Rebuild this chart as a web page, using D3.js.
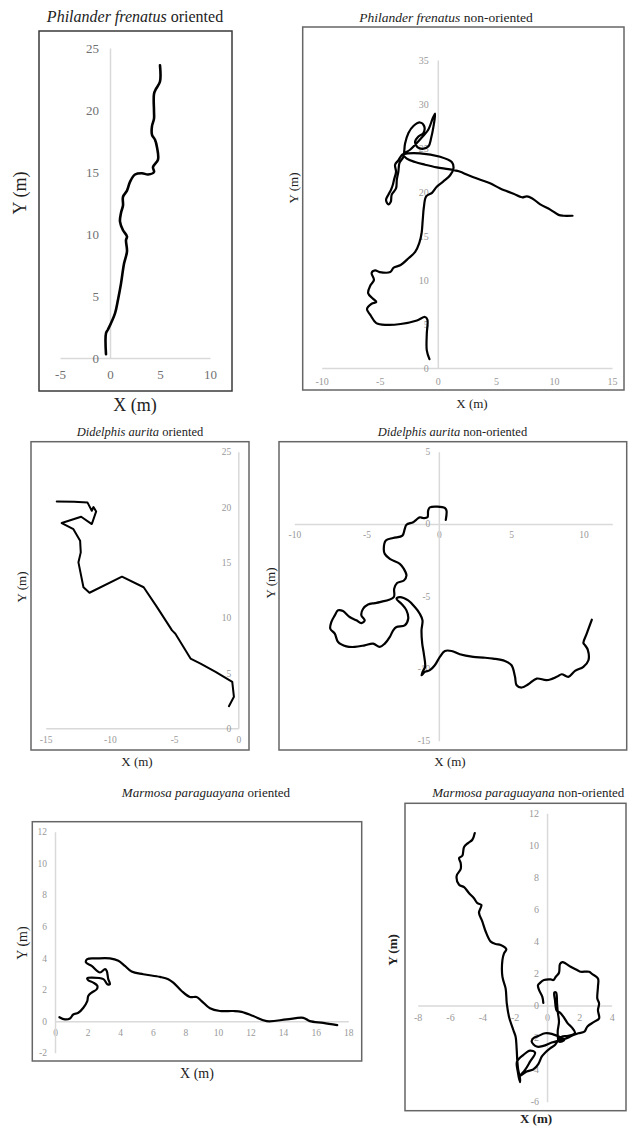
<!DOCTYPE html>
<html>
<head>
<meta charset="utf-8">
<script src="https://cdn.jsdelivr.net/npm/d3@7"></script>
<style>
    body { margin: 0; background: #fff; }
    svg { display: block; font-family: "Liberation Serif", "Times New Roman", serif; }
</style>
</head>
<body>
<svg id="chart" width="639" height="1136"></svg>
<script>
/*
 Movement paths of three marsupials, oriented vs non-oriented releases.
 Six small scatter-with-lines panels in the Excel look.
 */
(function () {
    'use strict';

    // titles
    var species = ['Philander frenatus', 'Didelphis aurita', 'Marmosa paraguayana'],
        treatments = ['oriented', 'non-oriented'];

    // tick labels
    var pfoXTicks = [-5, 0, 5, 10],          pfoYTicks = [0, 5, 10, 15, 20, 25],
        pfnXTicks = [-10, -5, 0, 5, 10, 15], pfnYTicks = [0, 5, 10, 15, 20, 25, 30, 35],
        daoXTicks = [-15, -10, -5, 0],       daoYTicks = [0, 5, 10, 15, 20, 25],
        danXTicks = [-10, -5, 0, 5, 10],     danYTicks = [-15, -10, -5, 0, 5],
        mpoXTicks = [0, 2, 4, 6, 8, 10, 12, 14, 16, 18],
        mpoYTicks = [-2, 0, 2, 4, 6, 8, 10, 12],
        mpnXTicks = [-8, -6, -4, -2, 0, 2, 4],
        mpnYTicks = [-6, -4, -2, 0, 2, 4, 6, 8, 10, 12];

    // paths, [x, y] in metres
    var philanderOriented = [
        [-0.4, 0.3], [-0.4, 2.0], [-0.2, 2.3], [0.5, 3.6], [0.8, 4.7], [1.1, 6.0],
        [1.4, 7.6], [1.7, 8.6], [1.6, 9.5], [1.7, 9.8], [1.3, 10.3], [1.0, 11.0],
        [1.1, 11.7], [1.3, 12.3], [1.3, 13.0], [1.7, 13.5], [2.0, 14.2], [2.5, 14.8],
        [3.2, 14.9], [3.8, 14.8], [4.4, 15.0], [4.3, 15.4], [4.8, 16.0], [4.7, 17.0],
        [4.5, 17.6], [4.2, 18.0], [4.2, 18.7], [4.4, 19.3], [4.4, 19.9], [4.4, 21.3],
        [4.6, 21.7], [5.0, 22.3], [5.0, 23.6]
    ];

    var philanderNonOriented = [
        [-0.72, 1.0], [-0.95, 2.0], [-0.95, 3.9], [-0.9, 5.5], [-1.1, 5.8], [-1.8, 5.4],
        [-3.2, 5.0], [-4.4, 4.9], [-5.3, 5.1], [-5.8, 6.0], [-6.1, 6.7], [-5.7, 7.3],
        [-5.3, 7.5], [-5.6, 7.9], [-6.0, 8.5], [-5.8, 9.4], [-5.5, 10.0], [-5.7, 10.8],
        [-5.4, 11.1], [-5.0, 10.9], [-4.1, 10.9], [-3.8, 11.4], [-3.2, 11.7], [-2.5, 12.5],
        [-1.95, 13.2], [-1.6, 14.2], [-1.4, 15.3], [-1.3, 16.8], [-1.2, 18.3], [-1.0, 19.5],
        [-0.5, 19.9], [-0.09, 20.6], [0.48, 21.2], [1.06, 21.9], [1.35, 22.7], [1.2, 23.4],
        [0.2, 24.0], [-1.53, 24.4], [-2.97, 24.3], [-3.1, 24.2],
        [-3.4, 23.6], [-3.68, 23.1], [-3.6, 22.3], [-3.77, 21.4], [-3.88, 20.8], [-4.05, 20.2],
        [-4.26, 19.7], [-4.46, 19.1], [-4.26, 18.6], [-4.05, 18.9],
        [-3.97, 19.7], [-3.6, 20.4], [-3.53, 21.4], [-3.4, 22.3], [-3.3, 23.3], [-2.97, 24.0],
        [-2.82, 25.5], [-2.53, 26.7], [-2.1, 27.5], [-1.53, 27.9], [-1.18, 27.5], [-1.24, 26.7],
        [-1.67, 26.3], [-1.96, 25.7], [-1.76, 25.1], [-1.3, 24.9], [-0.8, 25.2], [-0.58, 26.1],
        [-0.38, 27.4], [-0.23, 28.9], [-0.43, 28.4], [-0.81, 27.1], [-1.24, 26.4], [-2.39, 24.8],
        [-2.97, 24.3],
        [-2.67, 23.8], [-1.96, 23.4], [-1.1, 23.1], [-0.09, 22.8], [0.91, 22.6], [1.69, 22.4],
        [1.93, 22.3], [2.64, 21.9], [3.65, 21.4], [4.5, 21.0], [5.37, 20.4], [6.52, 19.8],
        [7.24, 19.4], [7.67, 19.5], [8.1, 19.3], [8.82, 18.6], [9.68, 18.0], [10.4, 17.4],
        [10.8, 17.3], [11.6, 17.3]
    ];

    var didelphisOriented = [
        [-0.73, 2.0], [-0.34, 2.85], [-0.47, 4.2], [-1.77, 5.1], [-2.94, 5.85], [-3.72, 6.3],
        [-4.9, 8.55], [-5.16, 8.85], [-6.33, 10.95], [-7.37, 12.75], [-9.06, 13.7],
        [-11.59, 12.25], [-12.06, 12.75], [-12.45, 15.0], [-12.27, 15.9], [-12.32, 16.96],
        [-12.84, 18.0], [-13.75, 18.55], [-12.24, 19.12], [-11.41, 18.46], [-11.07, 19.6],
        [-11.28, 20.0], [-11.41, 19.66], [-11.74, 20.4], [-12.79, 20.47], [-14.14, 20.5]
    ];

    var didelphisNonOriented = [
        [0.48, 0.28], [0.53, 0.92], [0.42, 1.10], [-0.62, 1.15], [-0.74, 0.92], [-0.79, 0.46],
        [-1.09, 0.41], [-1.32, 0.46], [-1.55, 0.30], [-1.78, 0.12], [-2.24, -0.05], [-2.36, -0.35],
        [-2.52, -0.81], [-3.16, -0.97], [-3.67, -1.15], [-3.81, -1.73], [-3.74, -2.07], [-3.39, -2.42],
        [-2.7, -2.76], [-2.42, -3.11], [-2.24, -3.57], [-2.42, -3.91], [-2.89, -4.09], [-3.09, -4.49],
        [-3.12, -5.06], [-4.09, -5.41], [-4.43, -5.48], [-4.9, -5.57], [-5.24, -5.87], [-5.36, -6.33],
        [-5.13, -6.67], [-5.36, -6.86], [-5.7, -6.67], [-6.17, -6.44], [-6.63, -6.03], [-6.97, -5.98],
        [-7.2, -6.33], [-7.44, -6.79], [-7.51, -7.25], [-7.2, -7.59], [-6.97, -8.17], [-6.4, -8.47],
        [-5.82, -8.51], [-5.13, -8.4], [-4.55, -8.28], [-4.09, -8.51], [-3.74, -8.28], [-3.39, -7.82],
        [-3.16, -7.36], [-2.93, -7.13], [-2.36, -7.02], [-2.12, -6.56], [-2.24, -5.98], [-2.59, -5.52],
        [-2.93, -5.18], [-2.7, -5.06], [-2.12, -5.29], [-1.66, -5.75], [-1.32, -6.21], [-1.13, -6.67],
        [-1.2, -7.36], [-1.15, -8.28], [-1.04, -8.97], [-0.95, -9.89], [-1.09, -10.17], [-1.2, -10.47],
        [-0.97, -10.24], [-0.62, -10.12], [-0.28, -9.78], [0.07, -9.2], [0.42, -8.79], [0.88, -8.79],
        [1.45, -9.02], [2.38, -9.2], [3.07, -9.25], [3.76, -9.32], [4.57, -9.48], [5.03, -9.78],
        [5.27, -10.58], [5.38, -11.16], [5.73, -11.32], [6.19, -11.09], [6.77, -10.7], [7.46, -10.81],
        [8.15, -10.58], [8.5, -10.4], [8.96, -10.58], [9.42, -10.17], [10.0, -9.89], [10.35, -9.43],
        [10.3, -8.7], [10.12, -8.4], [10.0, -8.24], [10.23, -7.59], [10.58, -6.63]
    ];

    var marmosaOriented = [
        [0.27, 0.25], [0.61, 0.11], [0.92, 0.17], [1.12, 0.42], [1.43, 0.53], [1.74, 0.85],
        [1.98, 1.27], [2.04, 1.59], [2.25, 1.81], [2.56, 2.02], [2.6, 2.23], [2.35, 2.44],
        [2.04, 2.59], [1.98, 2.72], [2.25, 2.76], [2.97, 2.66], [3.21, 2.34], [3.37, 2.34],
        [3.27, 2.66], [3.17, 3.19], [3.07, 3.29], [2.76, 3.08], [2.25, 3.5], [1.9, 3.72],
        [1.98, 3.93], [2.56, 3.97], [3.37, 3.97], [3.89, 3.82], [4.29, 3.5], [4.7, 3.14],
        [5.42, 2.97], [6.44, 2.8], [6.95, 2.66], [7.26, 2.44], [7.77, 1.91], [8.28, 1.53],
        [8.69, 1.53], [9.0, 1.27], [9.51, 0.81], [10.12, 0.64], [10.94, 0.64], [11.45, 0.59],
        [12.17, 0.32], [12.99, 0.0], [14.21, 0.11], [15.24, 0.21], [15.64, 0.0], [16.46, -0.11],
        [17.32, -0.25]
    ];

    var marmosaNonOriented = [
        [-4.47, 10.77], [-4.62, 10.35], [-4.89, 10.14], [-5.13, 9.9], [-5.24, 9.35], [-5.44, 9.21],
        [-5.34, 8.89], [-5.34, 8.52], [-5.59, 8.1], [-5.44, 7.54], [-5.13, 7.39], [-4.82, 7.01],
        [-4.52, 6.7], [-4.31, 6.39], [-4.06, 6.28], [-4.21, 5.8], [-4.0, 5.24], [-3.79, 4.61],
        [-3.48, 3.99], [-3.18, 3.84], [-2.87, 3.78], [-2.52, 3.51], [-2.66, 3.26], [-2.76, 2.84],
        [-2.76, 1.8], [-2.56, 1.06], [-2.49, 0.13], [-2.35, -0.71], [-2.08, -1.54], [-1.94, -1.96],
        [-1.88, -2.69], [-1.84, -3.42], [-1.79, -3.95], [-1.67, -4.57], [-1.67, -4.78],
        [-1.81, -4.12], [-1.86, -3.5], [-1.46, -3.08], [-1.05, -2.81], [-0.74, -2.94], [-1.05, -3.5],
        [-1.36, -4.02], [-1.67, -4.39], [-1.26, -4.12], [-0.85, -3.98], [-0.54, -3.65], [-0.33, -3.19],
        [-0.12, -2.94], [0.19, -2.67], [0.49, -2.46], [0.7, -2.15], [0.91, -1.94], [1.22, -1.9],
        [1.53, -1.84], [1.73, -1.69], [1.53, -1.36], [1.28, -1.11], [1.01, -0.69], [0.8, -0.44],
        [0.6, -0.32], [0.49, 0.35], [0.45, 0.81], [0.56, 0.81], [0.62, 0.14], [0.66, -0.38],
        [0.74, -1.0], [0.66, -1.63], [0.74, -2.25], [1.07, -2.15], [0.29, -1.77], [-0.12, -1.73],
        [-0.54, -1.9], [-0.85, -2.04], [-0.95, -2.25], [-0.64, -2.56], [-0.23, -2.52], [0.29, -2.31],
        [1.22, -2.04], [1.63, -1.84], [1.94, -1.73], [2.31, -1.63], [2.5, -1.3], [2.91, -1.02],
        [3.22, -0.81], [3.15, -0.29], [3.22, 0.13], [3.11, 0.44], [3.15, 1.17], [3.15, 1.69],
        [2.8, 1.96], [2.6, 2.11], [2.08, 2.11], [1.88, 2.21], [1.46, 2.42], [1.15, 2.63],
        [0.95, 2.71], [0.8, 2.59], [0.74, 2.05], [0.54, 1.8], [0.39, 1.59], [0.23, 1.63],
        [-0.19, 1.59], [-0.43, 1.42], [-0.56, 1.27], [-0.49, 0.96], [-0.29, 0.54], [-0.23, 0.17]
    ];

    // layout of each panel (pixels)
    var panels = [
        {
            sp: 0, tr: 0, data: philanderOriented, xTicks: pfoXTicks, yTicks: pfoYTicks,
            xDom: [-5, 10], yDom: [0, 25], xRng: [60, 210], yRng: [358, 48],
            box: [39, 31, 232, 391], title: [135, 16, 16], tick: [13, 12, 11, '#707070'],
            xLab: [135, 405], yLab: [20, 193], lab: 18, bold: false, lw: 2.6, boxCol: '#3a3a3a'
        },
        {
            sp: 0, tr: 1, data: philanderNonOriented, xTicks: pfnXTicks, yTicks: pfnYTicks,
            xDom: [-10, 15], yDom: [0, 35], xRng: [321.7, 612], yRng: [368, 60],
            box: [302.7, 27, 624, 390], title: [446, 17, 13.5], tick: [10, 9.5, 9, '#999'],
            xLab: [472, 403], yLab: [293, 188], lab: 13, bold: false, lw: 2.2, boxCol: '#666'
        },
        {
            sp: 1, tr: 0, data: didelphisOriented, xTicks: daoXTicks, yTicks: daoYTicks,
            xDom: [-15, 0], yDom: [0, 25], xRng: [45.7, 238.3], yRng: [728.3, 451.7],
            box: [31, 441.7, 249, 750], title: [140, 432, 12.5], tick: [9.5, 8.3, 7, '#999'],
            xLab: [137, 761], yLab: [21, 587], lab: 13, bold: false, lw: 2, boxCol: '#666',
            linear: true
        },
        {
            sp: 1, tr: 1, data: didelphisNonOriented, xTicks: danXTicks, yTicks: danYTicks,
            xDom: [-10, 12], yDom: [-15, 5], xRng: [294.3, 612.3], yRng: [740.7, 451.7],
            box: [279, 441.7, 626.7, 750], title: [452.5, 432, 12.5], tick: [9.5, 7.8, 8.5, '#999'],
            xLab: [450, 761], yLab: [270, 583], lab: 13, bold: false, lw: 2.2, boxCol: '#666'
        },
        {
            sp: 2, tr: 0, data: marmosaOriented, xTicks: mpoXTicks, yTicks: mpoYTicks,
            xDom: [0, 18], yDom: [-2, 12], xRng: [55, 348.3], yRng: [1052.7, 831.7],
            box: [32.3, 821.7, 361.7, 1061], title: [206, 792, 13], tick: [9.5, 8.3, 8, '#999'],
            xLab: [197, 1073], yLab: [22, 943], lab: 14, bold: false, lw: 2.2, boxCol: '#666'
        },
        {
            sp: 2, tr: 1, data: marmosaNonOriented, xTicks: mpnXTicks, yTicks: mpnYTicks,
            xDom: [-8, 4], yDom: [-6, 12], xRng: [417.7, 611.7], yRng: [1101.7, 813.3],
            box: [405, 803.3, 626, 1110.7], title: [528.3, 792, 13], tick: [10, 8.7, 8, '#999'],
            xLab: [536, 1118], yLab: [392, 950], lab: 13, bold: true, lw: 2.2, boxCol: '#666'
        }
    ];

    var svg = d3.select('#chart');

    function fmt(d) {
        return String(d);
    }

    function styleAxis(sel, p) {
        sel.attr('font-family', null).attr('font-size', p.tick[0]);
        sel.select('.domain').attr('stroke', '#d9d9d9').attr('stroke-width', 1.5);
        sel.selectAll('text').attr('fill', p.tick[3]);
    }

    function drawPanel(p) {
        var g = svg.append('g'),
            x = d3.scaleLinear().domain(p.xDom).range(p.xRng),
            y = d3.scaleLinear().domain(p.yDom).range(p.yRng),
            b = p.box;

        g.append('rect')
            .attr('x', b[0]).attr('y', b[1])
            .attr('width', b[2] - b[0]).attr('height', b[3] - b[1])
            .attr('fill', 'none')
            .attr('stroke', p.boxCol)
            .attr('stroke-width', 1.5);

        // axes cross at the origin, excel style
        g.append('g')
            .attr('transform', 'translate(0,' + y(0) + ')')
            .call(d3.axisBottom(x).tickValues(p.xTicks).tickSize(0)
                .tickPadding(p.tick[1]).tickFormat(fmt))
            .call(styleAxis, p);

        g.append('g')
            .attr('transform', 'translate(' + x(0) + ',0)')
            .call(d3.axisLeft(y).tickValues(p.yTicks).tickSize(0)
                .tickPadding(p.tick[2]).tickFormat(fmt))
            .call(styleAxis, p);

        var line = d3.line()
            .x(function (d) { return x(d[0]); })
            .y(function (d) { return y(d[1]); })
            .curve(p.linear ? d3.curveLinear : d3.curveCatmullRom.alpha(0.5));

        g.append('path')
            .datum(p.data)
            .attr('d', line)
            .attr('fill', 'none')
            .attr('stroke', '#000')
            .attr('stroke-width', p.lw)
            .attr('stroke-linejoin', 'round')
            .attr('stroke-linecap', 'round');

        var t = g.append('text')
            .attr('x', p.title[0]).attr('y', p.title[1])
            .attr('dy', '0.35em')
            .attr('text-anchor', 'middle')
            .attr('font-size', p.title[2])
            .attr('fill', '#222');
        t.append('tspan').attr('font-style', 'italic').text(species[p.sp]);
        t.append('tspan').text(' ' + treatments[p.tr]);

        g.append('text')
            .attr('x', p.xLab[0]).attr('y', p.xLab[1])
            .attr('dy', '0.35em')
            .attr('text-anchor', 'middle')
            .attr('font-size', p.lab)
            .attr('font-weight', p.bold ? 'bold' : null)
            .attr('fill', '#222')
            .text('X (m)');

        g.append('text')
            .attr('transform', 'translate(' + p.yLab[0] + ',' + p.yLab[1] + ') rotate(-90)')
            .attr('dy', '0.35em')
            .attr('text-anchor', 'middle')
            .attr('font-size', p.lab)
            .attr('font-weight', p.bold ? 'bold' : null)
            .attr('fill', '#222')
            .text('Y (m)');
    }

    panels.forEach(drawPanel);
}());
</script>
</body>
</html>
